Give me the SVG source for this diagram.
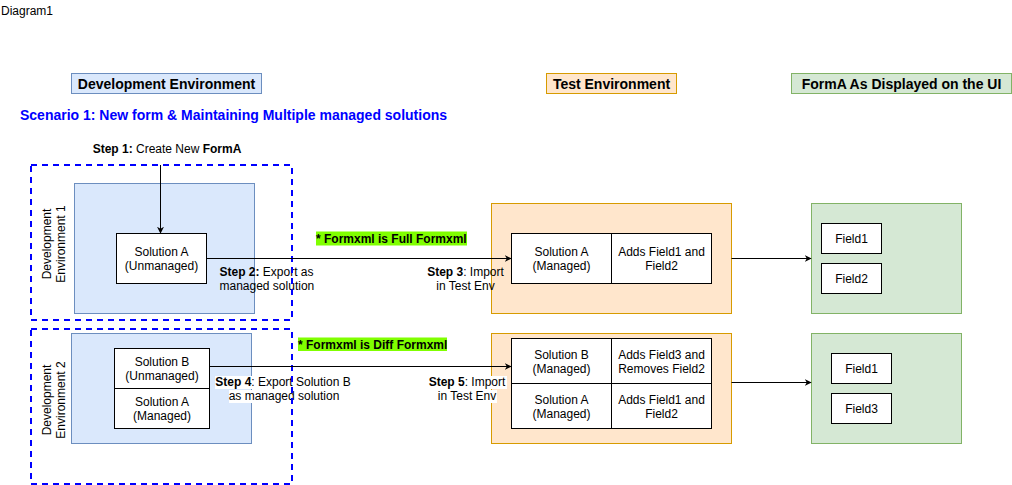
<svg xmlns="http://www.w3.org/2000/svg" width="1012" height="485" viewBox="0 0 1012 485">
<style>
text{font-family:"Liberation Sans",Arial,Helvetica,sans-serif;font-size:12px;fill:#000}
.b{font-weight:bold}
.h{font-size:14px;font-weight:bold}
.c{text-anchor:middle}
.blue{fill:#dae8fc;stroke:#6c8ebf;stroke-width:1}
.org{fill:#ffe6cc;stroke:#d79b00;stroke-width:1}
.grn{fill:#d5e8d4;stroke:#82b366;stroke-width:1}
.wb{fill:#fff;stroke:#000;stroke-width:1}
.dash{fill:none;stroke:#0000ff;stroke-width:2;stroke-dasharray:6 5}
.con{fill:none;stroke:#000;stroke-width:1;marker-end:url(#arr)}
.hl{fill:#80ff00}
</style>
<defs>
<marker id="arr" viewBox="0 0 10 10" refX="9" refY="5" markerWidth="7" markerHeight="7" markerUnits="userSpaceOnUse" orient="auto">
<path d="M0,0 L10,5 L0,10 L3,5 z" fill="#000"/>
</marker>
</defs>
<rect width="1012" height="485" fill="#fff"/>
<text x="1" y="15">Diagram1</text>

<g id="hdr-dev"><rect class="blue" x="71.5" y="73.5" width="190" height="20"/><text class="h c" x="166.5" y="88.5">Development Environment</text></g>
<g id="hdr-test"><rect class="org" x="546.5" y="73.5" width="130" height="20"/><text class="h c" x="611.5" y="88.5">Test Environment</text></g>
<g id="hdr-ui"><rect class="grn" x="791.5" y="73.5" width="220" height="20"/><text class="h c" x="901.5" y="88.5">FormA As Displayed on the UI</text></g>
<g id="scenario"><text class="h" x="20" y="120" fill="#0000ff" style="fill:#0000ff">Scenario 1: New form &amp; Maintaining Multiple managed solutions</text></g>

<g id="dev1"><rect class="blue" x="74.5" y="183.5" width="180" height="130"/>
<text class="c" transform="translate(51,244) rotate(-90)"><tspan x="0" y="0">Development</tspan><tspan x="0" y="14">Environment 1</tspan></text></g>
<g id="solA-unm"><rect class="wb" x="116.5" y="233.5" width="90" height="50"/>
<text class="c" x="161.5" y="255.5">Solution A</text><text class="c" x="161.5" y="269.5">(Unmanaged)</text></g>

<g id="dev2"><rect class="blue" x="71.5" y="333.5" width="180" height="110"/>
<text class="c" transform="translate(51,400) rotate(-90)"><tspan x="0" y="0">Development</tspan><tspan x="0" y="14">Environment 2</tspan></text></g>
<g id="solB-unm"><rect class="wb" x="114.5" y="348.5" width="95" height="40"/>
<text class="c" x="162" y="365.5">Solution B</text><text class="c" x="162" y="379.5">(Unmanaged)</text></g>
<g id="solA-man-dev2"><rect class="wb" x="114.5" y="388.5" width="95" height="40"/>
<text class="c" x="162" y="405.5">Solution A</text><text class="c" x="162" y="419.5">(Managed)</text></g>

<g id="test1"><rect class="org" x="491.5" y="203.5" width="240" height="110"/>
<rect class="wb" x="511.5" y="233.5" width="100" height="50"/><rect class="wb" x="611.5" y="233.5" width="100" height="50"/>
<text class="c" x="561.5" y="255.5">Solution A</text><text class="c" x="561.5" y="269.5">(Managed)</text>
<text class="c" x="661.5" y="255.5">Adds Field1 and</text><text class="c" x="661.5" y="269.5">Field2</text></g>

<g id="test2"><rect class="org" x="491.5" y="333.5" width="240" height="110"/>
<rect class="wb" x="511.5" y="338.5" width="100" height="45"/><rect class="wb" x="611.5" y="338.5" width="100" height="45"/>
<rect class="wb" x="511.5" y="383.5" width="100" height="45"/><rect class="wb" x="611.5" y="383.5" width="100" height="45"/>
<text class="c" x="561.5" y="358.5">Solution B</text><text class="c" x="561.5" y="372.5">(Managed)</text>
<text class="c" x="661.5" y="358.5">Adds Field3 and</text><text class="c" x="661.5" y="372.5">Removes Field2</text>
<text class="c" x="561.5" y="403.5">Solution A</text><text class="c" x="561.5" y="417.5">(Managed)</text>
<text class="c" x="661.5" y="403.5">Adds Field1 and</text><text class="c" x="661.5" y="417.5">Field2</text></g>

<g id="ui1"><rect class="grn" x="811.5" y="203.5" width="150" height="110"/>
<rect class="wb" x="821.5" y="223.5" width="60" height="30"/><text class="c" x="851.5" y="242.5">Field1</text>
<rect class="wb" x="821.5" y="263.5" width="60" height="30"/><text class="c" x="851.5" y="282.5">Field2</text></g>
<g id="ui2"><rect class="grn" x="811.5" y="333.5" width="150" height="110"/>
<rect class="wb" x="831.5" y="353.5" width="60" height="30"/><text class="c" x="861.5" y="372.5">Field1</text>
<rect class="wb" x="831.5" y="393.5" width="60" height="30"/><text class="c" x="861.5" y="412.5">Field3</text></g>

<g id="labels">
<text class="c" x="167" y="153"><tspan class="b">Step 1:</tspan> Create New <tspan class="b">FormA</tspan></text>
<text x="219.5" y="276"><tspan class="b">Step 2:</tspan> Export as</text>
<text x="219.5" y="290">managed solution</text>
<text class="c" x="465.5" y="276"><tspan class="b">Step 3</tspan>: Import</text>
<text class="c" x="465.5" y="290">in Test Env</text>
<rect x="215" y="376" width="135" height="13" fill="#fff"/>
<rect x="229" y="390" width="111" height="13" fill="#fff"/>
<text class="c" x="283" y="386"><tspan class="b">Step 4</tspan>: Export Solution B</text>
<text class="c" x="284" y="400">as managed solution</text>
<rect x="428" y="376" width="79" height="13" fill="#fff"/>
<rect x="438" y="390" width="59" height="13" fill="#fff"/>
<text class="c" x="467" y="386"><tspan class="b">Step 5</tspan>: Import</text>
<text class="c" x="467" y="400">in Test Env</text>
<rect class="hl" x="316" y="231.5" width="151" height="14"/>
<text class="b" x="316" y="243">* Formxml is Full Formxml</text>
<rect class="hl" x="298" y="337.5" width="149" height="13.5"/>
<text class="b" x="298" y="348.5">* Formxml is Diff Formxml</text>
</g>

<g id="dev-envs">
<rect class="dash" x="31" y="165" width="261" height="155"/>
<rect class="dash" x="31" y="329" width="261" height="155"/>
</g>

<g id="connectors">
<path class="con" d="M160.5,165 L160.5,233"/>
<path class="con" d="M206.5,258.5 L511,258.5"/>
<path class="con" d="M209.5,366.5 L511,366.5"/>
<path class="con" d="M731.5,258.5 L811,258.5"/>
<path class="con" d="M731.5,382.5 L811,382.5"/>
</g>
</svg>
